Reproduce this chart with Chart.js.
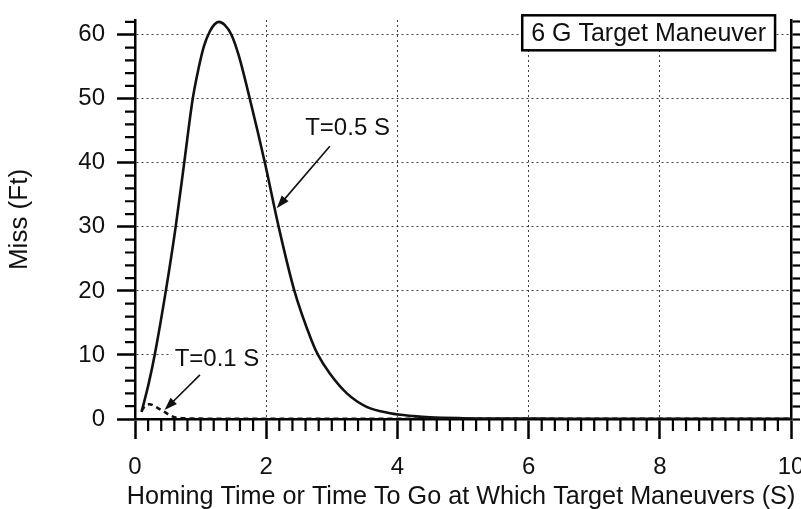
<!DOCTYPE html>
<html>
<head>
<meta charset="utf-8">
<script src="https://cdn.jsdelivr.net/npm/chart.js@4.4.1/dist/chart.umd.min.js"></script>
<style>
  html, body { margin: 0; padding: 0; background: #fff; }
</style>
</head>
<body>
<canvas id="chart" width="801" height="509"></canvas>
<script>
// miss distance vs homing time, 6 G target maneuver
// guidance time constant T = 0.5 s
var time05 = [0.10, 0.21, 0.30, 0.47, 0.62, 0.75, 0.88, 0.97, 1.05, 1.14, 1.21, 1.28, 1.37, 1.47, 1.58, 1.75,
              1.98, 2.19, 2.43, 2.69, 2.79, 2.97, 3.23, 3.53, 3.89, 4.25, 4.50, 5.0, 6.0, 7.0, 8.0, 9.0, 10.0];
var miss05 = [1.1, 5.6, 10, 20, 30, 40, 50, 54.8, 58.2, 60.5, 61.6, 62.0, 61.5, 60, 56.8, 50,
              40, 30, 20, 12.3, 10, 7.1, 4.0, 1.9, 0.9, 0.45, 0.25, 0.12, 0.06, 0.04, 0.03, 0.03, 0.02];

// guidance time constant T = 0.1 s
var time01 = [0.10, 0.15, 0.22, 0.35, 0.45, 0.58, 0.73, 1.0, 2.0, 4.0, 6.0, 8.0, 10.0];
var miss01 = [1.3, 2.0, 2.3, 1.7, 1.1, 0.35, 0.12, 0.06, 0.04, 0.03, 0.02, 0.02, 0.02];

var xTickValues = [0, 2, 4, 6, 8, 10];
var yTickValues = [0, 10, 20, 30, 40, 50, 60];

var FONT = '"Liberation Sans", Arial, Helvetica, sans-serif';
var INK = '#111';
var xTitle = 'Homing Time or Time To Go at Which Target Maneuvers (S)';

var callouts = [
    { text: 'T=0.5 S', at: [3.24, 45.6], from: [2.97, 42.6], to: [2.16, 32.9] },
    { text: 'T=0.1 S', at: [1.25, 9.4], from: [0.99, 6.9], to: [0.45, 1.4] }
];
var boxLabel = { text: '6 G Target Maneuver', at: [7.83, 60.3] };

function pairs(xs, ys) {
    return xs.map(function(x, i) { return { x: x, y: ys[i] }; });
}

function arrow(ctx, x1, y1, x2, y2) {
    var a = Math.atan2(y2 - y1, x2 - x1);
    var len = 13, half = 4.5;
    ctx.beginPath();
    ctx.moveTo(x1, y1);
    ctx.lineTo(x2 - Math.cos(a) * len * 0.8, y2 - Math.sin(a) * len * 0.8);
    ctx.stroke();
    ctx.beginPath();
    ctx.moveTo(x2, y2);
    ctx.lineTo(x2 - Math.cos(a) * len - Math.sin(a) * half, y2 - Math.sin(a) * len + Math.cos(a) * half);
    ctx.lineTo(x2 - Math.cos(a) * len + Math.sin(a) * half, y2 - Math.sin(a) * len - Math.cos(a) * half);
    ctx.closePath();
    ctx.fill();
}

// short minor ticks between the labelled ones
var minorTicks = {
    id: 'minorTicks',
    afterDraw: function(chart) {
        var ctx = chart.ctx, x = chart.scales.x, y = chart.scales.y, area = chart.chartArea;
        ctx.save();
        ctx.strokeStyle = '#000';
        ctx.lineWidth = 2.2;
        ctx.beginPath();
        for (var i = 1; i < 50; i++) {
            if (i % 10 === 0) continue;
            var px = x.getPixelForValue(i * 0.2);
            ctx.moveTo(px, area.bottom);
            ctx.lineTo(px, area.bottom + 12);
        }
        for (var j = 1; j <= 31; j++) {
            if (j % 5 === 0) continue;
            var py = y.getPixelForValue(j * 2);
            ctx.moveTo(area.left, py);
            ctx.lineTo(area.left - 10, py);
        }
        ctx.stroke();
        ctx.restore();
    }
};

var notes = {
    id: 'notes',
    afterDraw: function(chart) {
        var ctx = chart.ctx, x = chart.scales.x, y = chart.scales.y, area = chart.chartArea;
        ctx.save();
        ctx.font = '24px ' + FONT;
        ctx.textAlign = 'center';
        ctx.textBaseline = 'middle';
        ctx.strokeStyle = INK;
        ctx.lineWidth = 1.6;

        callouts.forEach(function(c) {
            var tx = x.getPixelForValue(c.at[0]), ty = y.getPixelForValue(c.at[1]);
            var w = ctx.measureText(c.text).width;
            ctx.fillStyle = '#fff';
            ctx.fillRect(tx - w / 2 - 3, ty - 12, w + 6, 24);
            ctx.fillStyle = INK;
            ctx.fillText(c.text, tx, ty + 1);
            arrow(ctx, x.getPixelForValue(c.from[0]), y.getPixelForValue(c.from[1]),
                       x.getPixelForValue(c.to[0]), y.getPixelForValue(c.to[1]));
        });

        ctx.font = '25px ' + FONT;
        var bx = x.getPixelForValue(boxLabel.at[0]), by = y.getPixelForValue(boxLabel.at[1]);
        var bw = ctx.measureText(boxLabel.text).width + 18, bh = 35;
        ctx.fillStyle = '#fff';
        ctx.fillRect(bx - bw / 2, by - bh / 2, bw, bh);
        ctx.lineWidth = 2.5;
        ctx.strokeStyle = '#000';
        ctx.strokeRect(bx - bw / 2, by - bh / 2, bw, bh);
        ctx.fillStyle = INK;
        ctx.fillText(boxLabel.text, bx, by + 1);

        // x axis title, a little wider than the plot area
        ctx.font = '25.2px ' + FONT;
        ctx.fillText(xTitle, (area.left + area.right) / 2 - 2, 497);
        ctx.restore();
    }
};

var gridDots = { color: 'rgba(0,0,0,0.75)', lineWidth: 1, tickColor: '#000', tickWidth: 2.5 };

new Chart(document.getElementById('chart'), {
    type: 'line',
    data: {
        datasets: [{
            label: 'T=0.5 S',
            data: pairs(time05, miss05),
            borderColor: INK,
            borderWidth: 2.6,
            pointRadius: 0,
            cubicInterpolationMode: 'monotone',
            fill: false
        }, {
            label: 'T=0.1 S',
            data: pairs(time01, miss01),
            borderColor: INK,
            borderWidth: 2.5,
            borderDash: [5, 4],
            pointRadius: 0,
            cubicInterpolationMode: 'monotone',
            fill: false
        }]
    },
    options: {
        responsive: false,
        animation: false,
        layout: { padding: { top: 20, left: 0, right: 0, bottom: 0 } },
        plugins: {
            legend: { display: false },
            tooltip: { enabled: false }
        },
        scales: {
            x: {
                type: 'linear',
                min: 0,
                max: 10,
                afterBuildTicks: function(s) {
                    s.ticks = xTickValues.map(function(v) { return { value: v }; });
                },
                afterFit: function(s) {
                    s.height = 90;
                    s.paddingLeft = 0;
                    s.paddingRight = 0;
                },
                ticks: { font: { size: 24, family: FONT }, color: INK, padding: 14, maxRotation: 0, autoSkip: false },
                grid: Object.assign({ tickLength: 20 }, gridDots),
                border: { color: '#000', width: 2.5, dash: [2, 3] }
            },
            y: {
                type: 'linear',
                min: 0,
                max: 62.3,
                afterBuildTicks: function(s) {
                    s.ticks = yTickValues.map(function(v) { return { value: v }; });
                },
                afterFit: function(s) {
                    s.width = 135;
                    s.paddingTop = 0;
                    s.paddingBottom = 0;
                },
                ticks: { font: { size: 24, family: FONT }, color: INK, padding: 12 },
                grid: Object.assign({ tickLength: 18 }, gridDots),
                border: { color: '#000', width: 2.5, dash: [2, 3] },
                title: {
                    display: true,
                    text: 'Miss (Ft)',
                    font: { size: 26, family: FONT, lineHeight: 1 },
                    color: INK,
                    padding: { top: 7, bottom: 0 }
                }
            },
            y2: {
                type: 'linear',
                position: 'right',
                min: 0,
                max: 62.3,
                afterBuildTicks: function(s) {
                    var t = [];
                    for (var k = 0; k <= 31; k++) t.push({ value: k * 2 });
                    s.ticks = t;
                },
                afterFit: function(s) {
                    s.width = 10;
                    s.paddingTop = 0;
                    s.paddingBottom = 0;
                },
                ticks: { display: false },
                grid: { drawOnChartArea: false, tickLength: 9, tickColor: '#000', tickWidth: 2.2 },
                border: { color: '#000', width: 2.5 }
            }
        }
    },
    plugins: [minorTicks, notes]
});
</script>
</body>
</html>
